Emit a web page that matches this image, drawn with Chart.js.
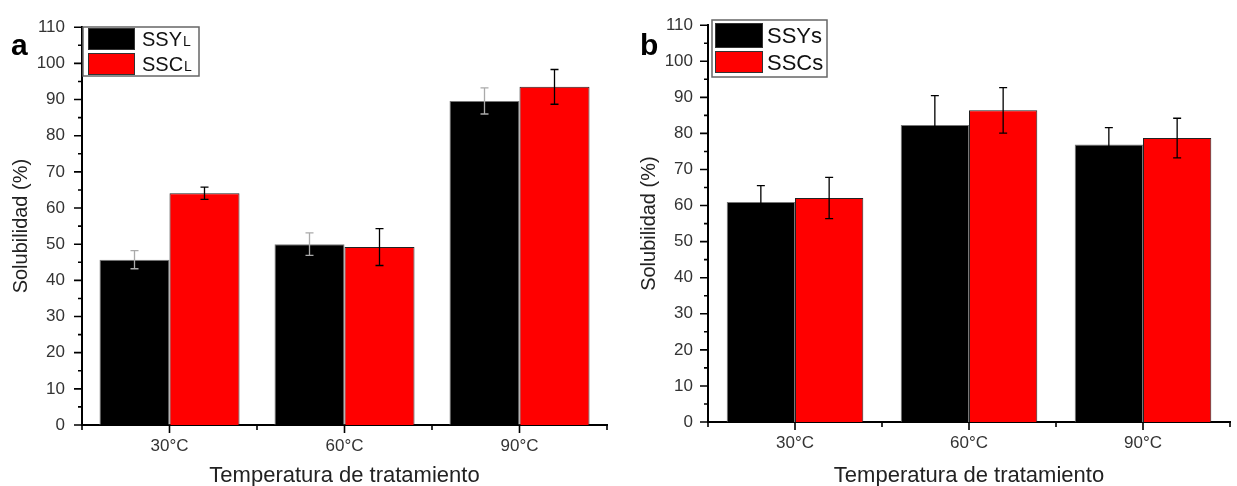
<!DOCTYPE html>
<html><head><meta charset="utf-8">
<script src="https://cdn.jsdelivr.net/npm/chart.js@4.4.1/dist/chart.umd.min.js"></script>
<style>
html,body{margin:0;padding:0;background:#fff;overflow:hidden}
#wa{position:absolute;left:0;top:0;width:618px;height:486px}
#wb{position:absolute;left:618px;top:0;width:619px;height:486px}
</style></head><body>
<div id="wa"><canvas id="ca" width="618" height="486"></canvas></div>
<div id="wb"><canvas id="cb" width="619" height="486"></canvas></div>
<script>
// ---- data ----
const categories = ['30°C', '60°C', '90°C'];
const yMin = 0, yMax = 110, yStep = 10;
const seriesA_SSYL = [45.7, 50.0, 89.6];
const errA_SSYL    = [2.5, 3.1, 3.6];
const seriesA_SSCL = [64.1, 49.2, 93.5];
const errA_SSCL    = [1.7, 5.1, 4.8];
const seriesB_SSYs = [61.0, 82.3, 76.9];
const errB_SSYs    = [4.5, 8.2, 4.7];
const seriesB_SSCs = [62.1, 86.4, 78.7];
const errB_SSCs    = [5.7, 6.3, 5.5];
const legendA = [['SSY', 'L'], ['SSC', 'L']];
const legendB = [['SSYs', ''], ['SSCs', '']];
const panelA = 'a', panelB = 'b';
const xTitle = 'Temperatura de tratamiento';
const yTitle = 'Solubilidad (%)';

const FONT = '"Liberation Sans", Arial, sans-serif';

// ---- plugins ----
const errPlugin = {
  id: 'errbars',
  afterDatasetsDraw(chart, args, o) {
    const ctx = chart.ctx, y = chart.scales.y;
    chart.data.datasets.forEach((ds, i) => {
      const meta = chart.getDatasetMeta(i);
      meta.data.forEach((bar, j) => {
        const v = ds.data[j], e = o.errs[i][j];
        const yt = y.getPixelForValue(v + e), yb = y.getPixelForValue(v - e);
        ctx.save();
        ctx.strokeStyle = o.colors[i]; ctx.lineWidth = 1.3;
        ctx.beginPath();
        ctx.moveTo(bar.x, yt); ctx.lineTo(bar.x, yb);
        ctx.moveTo(bar.x - 4, yt); ctx.lineTo(bar.x + 4, yt);
        ctx.moveTo(bar.x - 4, yb); ctx.lineTo(bar.x + 4, yb);
        ctx.stroke(); ctx.restore();
      });
    });
  }
};

const tickPlugin = {
  id: 'tickmarks',
  afterDraw(chart) {
    const ctx = chart.ctx, y = chart.scales.y, x = chart.scales.x;
    ctx.save();
    ctx.strokeStyle = '#000'; ctx.lineWidth = 1.6;
    ctx.beginPath();
    for (let v = yMin; v <= yMax; v += yStep / 2) {
      const p = y.getPixelForValue(v);
      const L = (v % yStep === 0) ? 8 : 4;
      ctx.moveTo(y.right, p); ctx.lineTo(y.right - L, p);
    }
    const n = x.ticks.length;
    for (let i = 0; i < n; i++) {
      const p = x.getPixelForTick(i);
      ctx.moveTo(p, x.top); ctx.lineTo(p, x.top + 8);
    }
    const w = (x.right - x.left) / n;
    for (let k = 0; k <= n; k++) {
      const p = x.left + k * w;
      ctx.moveTo(p, x.top); ctx.lineTo(p, x.top + 5);
    }
    ctx.stroke();
    ctx.restore();
  }
};

const legendPlugin = {
  id: 'boxlegend',
  afterDraw(chart, args, o) {
    const ctx = chart.ctx;
    ctx.save();
    ctx.fillStyle = '#fff';
    ctx.fillRect(o.box[0], o.box[1], o.box[2], o.box[3]);
    ctx.strokeStyle = '#666'; ctx.lineWidth = 1.5;
    ctx.strokeRect(o.box[0], o.box[1], o.box[2], o.box[3]);
    chart.data.datasets.forEach((ds, i) => {
      const r = o.rows[i];
      ctx.fillStyle = ds.backgroundColor;
      ctx.fillRect(r[0], r[1], r[2], r[3]);
      ctx.strokeStyle = '#333'; ctx.lineWidth = 1;
      ctx.strokeRect(r[0] + 0.5, r[1] + 0.5, r[2] - 1, r[3] - 1);
      const cy = r[1] + r[3] / 2;
      ctx.fillStyle = '#111';
      ctx.textBaseline = 'alphabetic';
      ctx.font = o.size + 'px ' + FONT;
      const base = cy + o.size * 0.36;
      const [main, sub] = o.labels[i];
      ctx.fillText(main, o.textX, base);
      if (sub) {
        const w = ctx.measureText(main).width;
        ctx.font = o.subSize + 'px ' + FONT;
        ctx.fillText(sub, o.textX + w + 1, base);
      }
    });
    // panel letter
    ctx.fillStyle = '#000';
    ctx.font = 'bold 30px ' + FONT;
    ctx.textBaseline = 'alphabetic';
    ctx.fillText(o.letter, o.letterPos[0], o.letterPos[1]);
    ctx.restore();
  }
};

function makeChart(canvasId, d1, d2, labels1, errs, errColors, target, legendOpts, catPct, yTitlePad, yTickPad) {
  const H = 486;
  const padding = { top: target.top, right: 10, bottom: 0, left: 0 };
  const cfg = {
    type: 'bar',
    data: {
      labels: categories,
      datasets: [
        { label: labels1[0].join(''), data: d1, backgroundColor: '#000000', borderColor: '#777', borderWidth: 1,
          barPercentage: 1.0, categoryPercentage: catPct },
        { label: labels1[1].join(''), data: d2, backgroundColor: '#ff0000', borderColor: '#222', borderWidth: 1,
          barPercentage: 1.0, categoryPercentage: catPct }
      ]
    },
    options: {
      responsive: false,
      animation: false,
      events: [],
      layout: { padding: padding },
      plugins: {
        legend: { display: false },
        tooltip: { enabled: false },
        errbars: { errs: errs, colors: errColors },
        boxlegend: legendOpts
      },
      scales: {
        x: {
          type: 'category',
          grid: { display: false, drawTicks: false },
          border: { display: true, color: '#000', width: 2 },
          ticks: { color: '#333', font: { family: FONT, size: 17 }, padding: 11, maxRotation: 0, autoSkip: false },
          title: { display: true, text: xTitle, color: '#222', font: { family: FONT, size: 22, lineHeight: 0.9 }, padding: { top: 0, bottom: 0 } },
          afterFit(s) { s.height = H - target.bottom; }
        },
        y: {
          min: yMin, max: yMax,
          grid: { display: false, drawTicks: false },
          border: { display: true, color: '#000', width: 2 },
          ticks: { stepSize: yStep, color: '#333', font: { family: FONT, size: 17 }, padding: yTickPad },
          title: { display: true, text: yTitle, color: '#222', font: { family: FONT, size: 20, lineHeight: 1 }, padding: { top: yTitlePad, bottom: 0 } },
          afterFit(s) { s.width = target.left; }
        }
      }
    },
    plugins: [errPlugin, tickPlugin, legendPlugin]
  };
  const ch = new Chart(document.getElementById(canvasId), cfg);
  for (let k = 0; k < 3; k++) {
    const ca = ch.chartArea;
    padding.top += target.top - ca.top;
    padding.right += ca.right - target.right;
    ch.update('none');
  }
  return ch;
}

makeChart('ca', seriesA_SSYL, seriesA_SSCL, legendA,
  [errA_SSYL, errA_SSCL], ['#aaaaaa', '#000000'],
  { left: 82, right: 607, top: 20, bottom: 425 },
  { box: [83, 27, 116, 49], rows: [[88, 28, 47, 22], [88, 53, 47, 22]], textX: 142, size: 20, subSize: 14,
    labels: legendA, letter: panelA, letterPos: [11, 55] },
  0.8, 11, 17);

makeChart('cb', seriesB_SSYs, seriesB_SSCs, legendB,
  [errB_SSYs, errB_SSCs], ['#000000', '#000000'],
  { left: 90, right: 612, top: 19, bottom: 422 },
  { box: [94, 20, 115, 57], rows: [[97, 23, 48, 25], [97, 51, 48, 22]], textX: 149, size: 22, subSize: 15,
    labels: legendB, letter: panelB, letterPos: [22, 55] },
  0.785, 21, 15);
</script>
</body></html>
